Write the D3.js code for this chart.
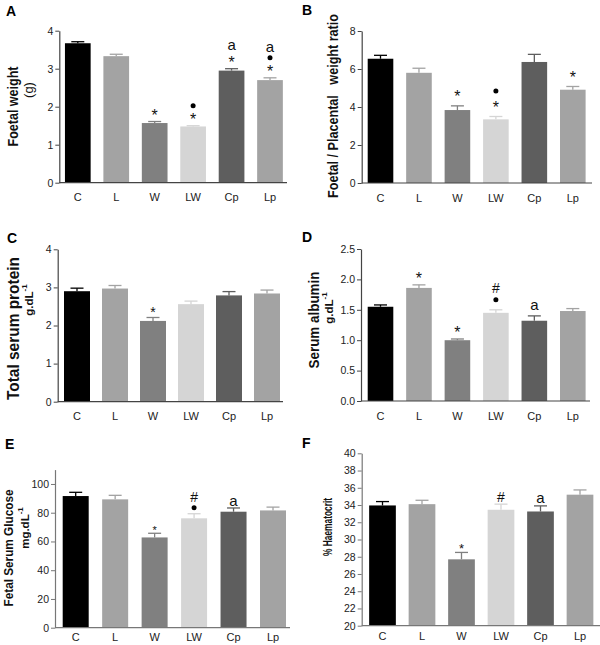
<!DOCTYPE html>
<html><head><meta charset="utf-8">
<script src="https://cdn.jsdelivr.net/npm/d3@7"></script>
<style>
html,body{margin:0;padding:0;background:#fff;}
svg{display:block;font-family:"Liberation Sans",Arial,Helvetica,sans-serif;}
</style></head>
<body><svg id="chart" width="600" height="645"></svg>
<script>
// ---- data ----
const groups = ["C", "L", "W", "LW", "Cp", "Lp"];
const barColors = ["#000000", "#a3a3a3", "#808080", "#d5d5d5", "#5e5e5e", "#a3a3a3"];

const foetalWeight    = [3.67, 3.33, 1.57, 1.48, 2.95, 2.70];
const foetalWeightErr = [0.04, 0.05, 0.04, 0.02, 0.05, 0.06];
const weightRatio     = [6.54, 5.80, 3.84, 3.35, 6.37, 4.91];
const weightRatioErr  = [0.18, 0.24, 0.22, 0.15, 0.40, 0.17];
const serumProtein    = [2.90, 2.97, 2.12, 2.56, 2.79, 2.84];
const serumProteinErr = [0.08, 0.08, 0.09, 0.08, 0.10, 0.09];
const serumAlbumin    = [1.55, 1.86, 1.00, 1.45, 1.32, 1.48];
const serumAlbuminErr = [0.03, 0.05, 0.02, 0.05, 0.08, 0.04];
const serumGlucose    = [91.6, 89.3, 62.8, 76.1, 80.7, 81.6];
const serumGlucoseErr = [2.6, 2.8, 2.9, 3.2, 2.6, 2.3];
const haematocrit     = [33.95, 34.1, 27.7, 33.45, 33.25, 35.2];
const haematocritErr  = [0.45, 0.45, 0.8, 0.65, 0.65, 0.55];

// significance marks per bar (bottom to top)
const marksA = [[], [], ["*"], ["*", "•"], ["*", "a"], ["*", "•", "a"]];
const marksB = [[], [], ["*"], ["*", "•"], [], ["*"]];
const marksC = [[], [], ["*"], [], [], []];
const marksD = [[], ["*"], ["*"], ["•", "#"], ["a"], []];
const marksE = [[], [], ["*"], ["•", "#"], ["a"], []];
const marksF = [[], [], ["*"], ["#"], ["a"], []];

const ticksA = [0, 1, 2, 3, 4];
const ticksB = [0, 2, 4, 6, 8];
const ticksC = [0, 1, 2, 3, 4];
const ticksD = [0, 0.5, 1.0, 1.5, 2.0, 2.5];
const ticksE = [0, 20, 40, 60, 80, 100];
const ticksF = [20, 22, 24, 26, 28, 30, 32, 34, 36, 38, 40];

// ---- layout ----
const panels = [
  {letter:"A", lx:6, ly:16, values:foetalWeight, errs:foetalWeightErr, marks:marksA, ticks:ticksA, fmt:d3.format("d"),
   domain:[0,4], yPix:[182.7,30.7], axisX:59.3, axisRight:287, c0:77.8, c5:270, bw:25.7, axisColor:"#444",
   starSize:16, gap0:10, gapStep:10, xPad:11,
   labels:[{t:"Foetal weight", x:12.7, y:106.5, size:14, bold:true, len:80},
           {t:"(g)", x:28.3, y:90, size:13, bold:false}]},
  {letter:"B", lx:302, ly:15, values:weightRatio, errs:weightRatioErr, marks:marksB, ticks:ticksB, fmt:d3.format("d"),
   domain:[0,8], yPix:[183,31], axisX:361.7, axisRight:592, c0:380.5, c5:572.8, bw:25.6, axisColor:"#444",
   starSize:16, gap0:13, gapStep:12.5, xPad:11,
   labels:[{t:"Foetal / Placental   weight ratio", x:333, y:106, size:14, bold:true, len:184}]},
  {letter:"C", lx:7, ly:243, values:serumProtein, errs:serumProteinErr, marks:marksC, ticks:ticksC, fmt:d3.format("d"),
   domain:[0,4], yPix:[401.7,249.3], axisX:57.7, axisRight:283, c0:77, c5:267, bw:26, axisColor:"#444",
   starSize:14, gap0:9, gapStep:11, xPad:11,
   labels:[{t:"Total serum protein", x:13, y:328.5, size:16, bold:true, len:143},
           {t:"g.dL", sup:"-1", x:29, y:300, size:11.5, bold:true}]},
  {letter:"D", lx:302, ly:242, values:serumAlbumin, errs:serumAlbuminErr, marks:marksD, ticks:ticksD, fmt:d3.format(".1f"),
   domain:[0,2.5], yPix:[401,249], axisX:361, axisRight:590, c0:380.5, c5:572.8, bw:25.6, axisColor:"#444",
   starSize:16, gap0:10, gapStep:12, xPad:11,
   labels:[{t:"Serum albumin", x:312.7, y:320, size:15, bold:true, len:97},
           {t:"g.dL", sup:"-1", x:329, y:308, size:11.5, bold:true}]},
  {letter:"E", lx:5, ly:449, values:serumGlucose, errs:serumGlucoseErr, marks:marksE, ticks:ticksE, fmt:d3.format("d"),
   domain:[0,110], yPix:[627.7,469.6], axisX:55, axisRight:290, c0:75.7, c5:273, bw:26, axisColor:"#777",
   starSize:11, gap0:6, gapStep:11, xPad:5.5,
   labels:[{t:"Fetal Serum Glucose", x:9, y:548, size:12.5, bold:true, len:117},
           {t:"mg.dL", sup:"-1", x:25, y:528, size:11.5, bold:true}]},
  {letter:"F", lx:302, ly:448, values:haematocrit, errs:haematocritErr, marks:marksF, ticks:ticksF, fmt:d3.format("d"),
   domain:[20,40], yPix:[625.7,453.3], axisX:361.7, axisRight:600, c0:382.5, c5:580, bw:26.7, axisColor:"#777",
   starSize:13, gap0:7, gapStep:11, xPad:6.5,
   labels:[{t:"% Haematocrit", x:327, y:527, size:13, bold:true, len:58}]}
];

const svg = d3.select("#chart");
const FONT = "\"Liberation Sans\",Arial,Helvetica,sans-serif";

panels.forEach(p => {
  const g = svg.append("g");
  const step = (p.c5 - p.c0) / 5;
  const pad = 1 - p.bw / step;
  const x = d3.scaleBand().domain(groups)
    .range([p.c0 - step / 2, p.c5 + step / 2])
    .paddingInner(pad).paddingOuter(pad / 2);
  const y = d3.scaleLinear().domain(p.domain).range(p.yPix);
  const base = p.domain[0];

  // bars
  g.selectAll("rect.bar").data(groups).join("rect")
    .attr("x", d => x(d)).attr("width", x.bandwidth())
    .attr("y", (d, i) => y(p.values[i]))
    .attr("height", (d, i) => y(base) - y(p.values[i]))
    .attr("fill", (d, i) => barColors[i]);

  // error bars (upper)
  groups.forEach((d, i) => {
    const cx = x(d) + x.bandwidth() / 2;
    const top = y(p.values[i] + p.errs[i]);
    g.append("line").attr("x1", cx).attr("x2", cx)
      .attr("y1", y(p.values[i])).attr("y2", top)
      .attr("stroke", barColors[i]).attr("stroke-width", 1.3);
    g.append("line").attr("x1", cx - 6.5).attr("x2", cx + 6.5)
      .attr("y1", top).attr("y2", top)
      .attr("stroke", barColors[i]).attr("stroke-width", 1.3);

    // marks
    let cy = top - p.gap0;
    p.marks[i].forEach((m, k) => {
      if (k > 0 && m === "a" && p.marks[i][k - 1] === "*") cy -= 3;
      if (m === "•") {
        g.append("circle").attr("cx", cx).attr("cy", cy).attr("r", 2.5).attr("fill", "#000");
      } else if (m === "*") {
        g.append("text").attr("x", cx).attr("y", cy + 0.58 * p.starSize)
          .attr("text-anchor", "middle").attr("font-size", p.starSize)
          .attr("font-family", FONT).attr("fill", "#111").text("*");
      } else if (m === "a") {
        g.append("text").attr("x", cx).attr("y", cy + 0.27 * 15)
          .attr("text-anchor", "middle").attr("font-size", 15)
          .attr("font-family", FONT).attr("fill", "#111").text("a");
      } else {
        g.append("text").attr("x", cx).attr("y", cy + 0.36 * 14)
          .attr("text-anchor", "middle").attr("font-size", 14)
          .attr("font-family", FONT).attr("fill", "#111").text(m);
      }
      cy -= p.gapStep;
    });
  });

  // y axis
  const yAxis = g.append("g").attr("transform", `translate(${p.axisX},0)`)
    .call(d3.axisLeft(y).tickValues(p.ticks).tickFormat(p.fmt).tickSize(4).tickPadding(2).tickSizeOuter(0));
  yAxis.select(".domain").attr("stroke", p.axisColor).attr("stroke-width", 1.2);
  yAxis.selectAll(".tick line").attr("stroke", p.axisColor);
  yAxis.selectAll(".tick text").attr("font-size", 10.5).attr("font-family", FONT).attr("fill", "#222");

  // x axis
  const xAxis = g.append("g").attr("transform", `translate(0,${y(base)})`)
    .call(d3.axisBottom(x).tickSize(0).tickPadding(p.xPad));
  xAxis.select(".domain").remove();
  xAxis.selectAll(".tick text").attr("font-size", 11).attr("font-family", FONT).attr("fill", "#222");
  g.append("line").attr("x1", p.axisX).attr("x2", p.axisRight)
    .attr("y1", y(base)).attr("y2", y(base))
    .attr("stroke", p.axisColor).attr("stroke-width", 1.2);

  // panel letter
  svg.append("text").attr("x", p.lx).attr("y", p.ly).attr("font-size", 14).attr("font-weight", "bold")
    .attr("font-family", FONT).attr("fill", "#000").text(p.letter);

  // y labels
  p.labels.forEach(l => {
    const t = svg.append("text")
      .attr("transform", `translate(${l.x},${l.y}) rotate(-90)`)
      .attr("text-anchor", "middle").attr("dominant-baseline", "central")
      .attr("font-size", l.size).attr("font-weight", l.bold ? "bold" : "normal")
      .attr("font-family", FONT).attr("fill", "#111")
      .style("white-space", "pre").attr("xml:space", "preserve");
    t.append("tspan").text(l.t);
    if (l.sup) {
      t.append("tspan").attr("font-size", l.size * 0.7).attr("dy", -l.size * 0.4).text(l.sup);
    }
    if (l.len) t.attr("textLength", l.len).attr("lengthAdjust", "spacingAndGlyphs");
  });
});
</script></body></html>
